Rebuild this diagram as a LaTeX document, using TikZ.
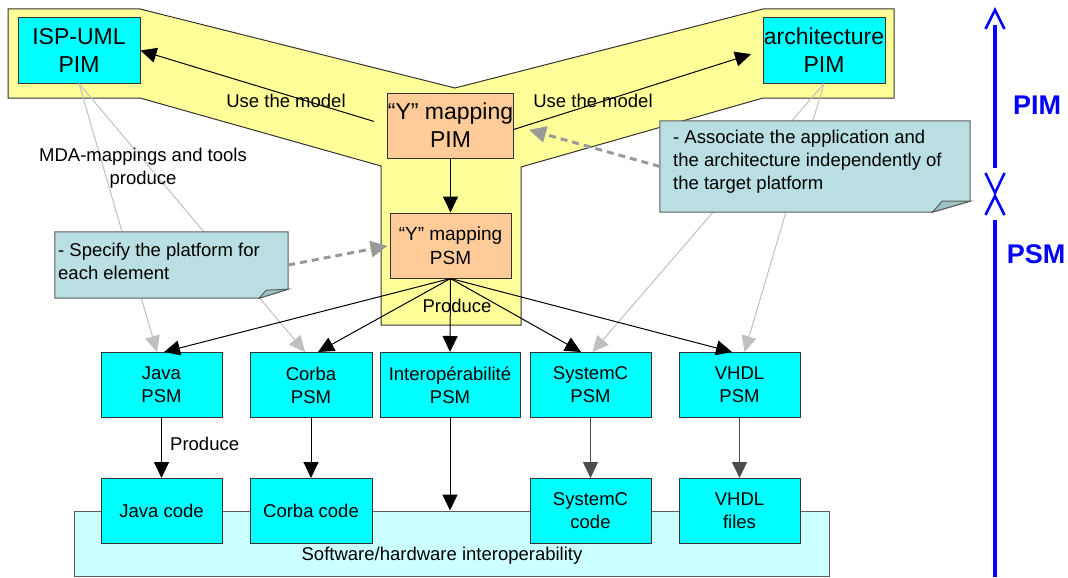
\documentclass[tikz,border=0pt]{standalone}
\usepackage{fontspec}
\setmainfont{Liberation Sans}
\usetikzlibrary{arrows.meta,calc}
\definecolor{cy}{HTML}{00FFFF}
\definecolor{lcy}{HTML}{CCFFFF}
\definecolor{peach}{HTML}{FFCC99}
\definecolor{yel}{HTML}{FFFF99}
\definecolor{notec}{HTML}{B9DFE2}
\definecolor{foldc}{HTML}{9CC3C6}
\definecolor{bd}{HTML}{333333}
\definecolor{lg}{HTML}{C0C0C0}
\definecolor{dg}{HTML}{999999}
\definecolor{bl}{HTML}{0000FF}
\newcommand\fsn{\fontsize{18.5}{23}\selectfont}
\newcommand\fsb{\fontsize{23}{28}\selectfont}
\newcommand\fsy{\fontsize{19}{24}\selectfont}
\newcommand\fsax{\fontsize{27}{30}\selectfont\bfseries}
\tikzset{
 bx/.style={draw=bd, line width=1pt, fill=cy, minimum width=121pt, minimum height=65pt, inner sep=0pt, align=center, font=\fsn},
 ybx/.style={bx, fill=peach},
 arr/.style={line width=1pt, -{Triangle[length=16pt,width=15pt]}},
 garr/.style={draw=lg, line width=1pt, -{Triangle[length=16pt,width=15pt,fill=lg]}},
 darr/.style={draw=dg, line width=3pt, dash pattern=on 7pt off 5pt, -{Triangle[length=17pt,width=16pt,fill=dg]}},
 lbl/.style={font=\fsn, inner sep=0pt, align=center},
 notebox/.style={minimum width=#1, inner sep=0pt},
 axshaft/.style={draw=bl, line width=4pt},
 axchev/.style={draw=bl, line width=2.5pt, miter limit=10},
}
\begin{document}
\begin{tikzpicture}[x=1pt,y=-1pt]
\useasboundingbox (0,0) rectangle (1068,578);
% yellow Y region
\fill[yel] (8,9) -- (140,9) -- (455,88) -- (763,9) -- (894,9) -- (894,98) -- (763,98) -- (521,167) -- (521,325) -- (381,325) -- (381,166) -- (140,98) -- (8,98) -- cycle;
\draw[bd, line width=1pt] (8,9) -- (140,9) -- (455,88) -- (763,9) -- (894,9) -- (894,98) -- (763,98) -- (521,167) -- (521,325) -- (381,325) -- (381,166) -- (140,98) -- (8,98) -- cycle;

% interoperability background
\node[draw=bd!80, line width=1pt, fill=lcy, minimum width=755pt, minimum height=65pt, inner sep=0pt] (bg) at (451.5,543.5) {};
\node[lbl] (bglbl) at (442,556) {Software/hardware interoperability};

% boxes
\node[bx, minimum width=122pt, font=\fsb] (isp) at (79,50.5) {ISP-UML\\PIM};
\node[bx, minimum width=122pt, font=\fsb] (arch) at (824,50.5) {architecture\\PIM};
\node[ybx, font=\fsb] (ypim) at (450.5,125.5) {“Y” mapping\\PIM};
\node[ybx, font=\fsy] (ypsm) at (450.5,245.5) {“Y” mapping\\PSM};

\node[bx] (javapsm) at (161.5,385) {Java\\PSM};
\node[bx, minimum width=122pt] (corbapsm) at (311,385) {Corba\\PSM};
\node[bx, minimum width=140pt] (interpsm) at (450,385) {Interopérabilité\\PSM};
\node[bx] (syspsm) at (590.5,385) {SystemC\\PSM};
\node[bx] (vhdlpsm) at (739.5,385) {VHDL\\PSM};

% gray MDA mapping lines
\draw[garr] (isp.south) -- ($(javapsm.north)+(-4.5,0)$);
\draw[garr] (isp.south) -- ($(corbapsm.north)+(-6,0)$);
\draw[garr] (arch.south) -- ($(syspsm.north)+(2,0)$);
\draw[garr] (arch.south) -- ($(vhdlpsm.north)+(5,0)$);

% notes
\node[notebox=233pt, minimum height=66pt] (note1) at (171.5,265) {};
\fill[notec] (note1.north west) -- (note1.north east) -- ($(note1.south east)+(0,-9)$) -- ($(note1.south east)+(-29,0)$) -- (note1.south west) -- cycle;
\draw[bd!80, line width=1pt] (note1.north west) -- (note1.north east) -- ($(note1.south east)+(0,-9)$) -- ($(note1.south east)+(-29,0)$) -- (note1.south west) -- cycle;
\filldraw[fill=foldc, draw=bd!80, line width=1pt] ($(note1.south east)+(-29,0)$) -- ($(note1.south east)+(-22,-8)$) -- ($(note1.south east)+(0,-9)$) -- cycle;
\node[lbl, align=left, anchor=north west] (note1txt) at (58,242.5) {- Specify the platform for\\each element};

\node[notebox=310pt, minimum height=91pt] (note2) at (815,166.5) {};
\fill[notec] (note2.north west) -- (note2.north east) -- ($(note2.south east)+(0,-11)$) -- ($(note2.south east)+(-38,0)$) -- (note2.south west) -- cycle;
\draw[bd!80, line width=1pt] (note2.north west) -- (note2.north east) -- ($(note2.south east)+(0,-11)$) -- ($(note2.south east)+(-38,0)$) -- (note2.south west) -- cycle;
\filldraw[fill=foldc, draw=bd!80, line width=1pt] ($(note2.south east)+(-38,0)$) -- ($(note2.south east)+(-28,-11)$) -- ($(note2.south east)+(0,-11)$) -- cycle;
\node[lbl, align=left, anchor=north west] (note2txt) at (673,129.5) {- Associate the application and\\the architecture independently of\\the target platform};

% code boxes
\node[bx] (javacode) at (161.5,511) {Java code};
\node[bx, minimum width=122pt] (corbacode) at (311,511) {Corba code};
\node[bx] (syscode) at (590.5,511) {SystemC\\code};
\node[bx] (vhdlfiles) at (739.5,511) {VHDL\\files};

% black connectors
\draw[arr, shorten <=14pt] (ypim.west) -- (isp.east);
\draw[arr, shorten >=12pt] ($(ypim.east)+(0,4)$) -- (arch.west);
\node[lbl] (use1) at (286,101) {Use the model};
\node[lbl] (use2) at (593,101) {Use the model};
\draw[arr] (ypim.south) -- (ypsm.north);
\draw[arr] (ypsm.south) -- ($(javapsm.north)+(2.5,0)$);
\draw[arr] (ypsm.south) -- ($(corbapsm.north)+(7,0)$);
\draw[arr] (ypsm.south) -- (interpsm.north);
\draw[arr] (ypsm.south) -- ($(syspsm.north)+(-9.5,0)$);
\draw[arr] (ypsm.south) -- ($(vhdlpsm.north)+(-7.5,0)$);
\node[lbl] (prod1) at (457,306) {Produce};
\draw[arr] (javapsm.south) -- (javacode.north);
\node[lbl, anchor=west] (prod2) at (170,444) {Produce};
\draw[arr] (corbapsm.south) -- (corbacode.north);
\draw[arr] (interpsm.south) -- (interpsm.south |- bg.north);
\draw[arr, draw=black!70] (syspsm.south) -- (syscode.north);
\draw[arr, draw=black!70] (vhdlpsm.south) -- (vhdlfiles.north);

\node[lbl] (mda) at (143,168.5) {MDA-mappings and tools\\produce};

% dashed note arrows
\draw[darr, shorten >=2pt] (note1.east) -- (ypsm.west);
\draw[darr, shorten >=16pt] (note2.west) -- (ypim.east);

% PIM / PSM axis
\draw[axshaft] (995,25) -- (995,168);
\draw[axshaft] (995,220) -- (995,577);
\draw[axchev] (985.5,29) -- (995,10) -- (1004.5,29);
\draw[axchev] (985.5,173) -- (995,193) -- (1004.5,173);
\draw[axchev] (985.5,215) -- (995,196) -- (1004.5,215);
\node[text=bl, font=\fsax, inner sep=0pt] (pimlbl) at (1037,105) {PIM};
\node[text=bl, font=\fsax, inner sep=0pt] (psmlbl) at (1036,254) {PSM};
\end{tikzpicture}
\end{document}
